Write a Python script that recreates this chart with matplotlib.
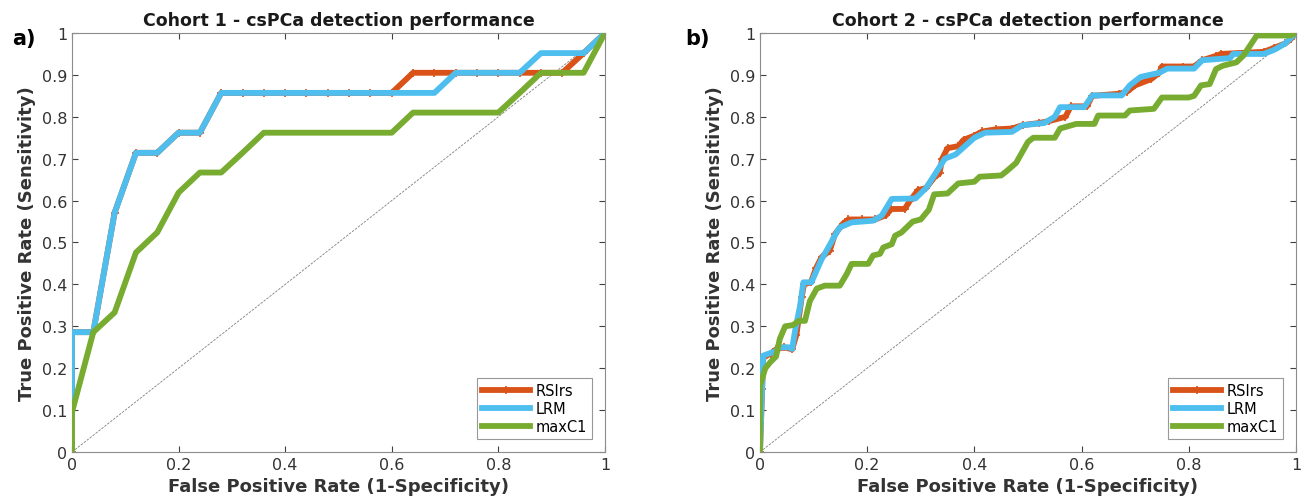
import matplotlib
matplotlib.use("Agg")
import matplotlib.pyplot as plt
from matplotlib.ticker import FuncFormatter

# colours (MATLAB default palette)
c_rsi = "#D95319"
c_lrm = "#4DBEEE"
c_max = "#77AC30"

# ---- Cohort 1 (step of 0.04 on FPR) ----
fpr1 = [0, 0, 0.04, 0.08, 0.12, 0.16, 0.20, 0.24, 0.28, 0.32, 0.36, 0.40, 0.44, 0.48,
        0.52, 0.56, 0.60, 0.64, 0.68, 0.72, 0.76, 0.80, 0.84, 0.88, 0.92, 0.96, 1.0]
rsi1 = [0, 0.286, 0.286, 0.571, 0.714, 0.714, 0.762, 0.762, 0.857, 0.857, 0.857, 0.857, 0.857, 0.857,
        0.857, 0.857, 0.857, 0.905, 0.905, 0.905, 0.905, 0.905, 0.905, 0.905, 0.905, 0.952, 1.0]
lrm1 = [0, 0.286, 0.286, 0.571, 0.714, 0.714, 0.762, 0.762, 0.857, 0.857, 0.857, 0.857, 0.857, 0.857,
        0.857, 0.857, 0.857, 0.857, 0.857, 0.905, 0.905, 0.905, 0.905, 0.952, 0.952, 0.952, 1.0]
max1 = [0, 0.095, 0.286, 0.333, 0.476, 0.524, 0.619, 0.667, 0.667, 0.714, 0.762, 0.762, 0.762, 0.762,
        0.762, 0.762, 0.762, 0.810, 0.810, 0.810, 0.810, 0.810, 0.857, 0.905, 0.905, 0.905, 1.0]

# ---- Cohort 2 ----
rsi2_x = [0, 0.004, 0.006, 0.02, 0.03, 0.045, 0.06, 0.068, 0.078, 0.082, 0.095, 0.105, 0.115, 0.13,
          0.14, 0.155, 0.165, 0.19, 0.215, 0.235, 0.245, 0.27, 0.28, 0.295, 0.31, 0.325, 0.335, 0.34,
          0.35, 0.37, 0.38, 0.40, 0.415, 0.44, 0.47, 0.49, 0.52, 0.54, 0.57, 0.58, 0.61, 0.62, 0.67,
          0.685, 0.70, 0.73, 0.745, 0.75, 0.79, 0.81, 0.825, 0.85, 0.86, 0.94, 0.96, 0.98, 0.99, 1.0]
rsi2_y = [0, 0.15, 0.225, 0.235, 0.245, 0.25, 0.245, 0.28, 0.37, 0.40, 0.405, 0.44, 0.465, 0.48,
          0.52, 0.545, 0.555, 0.555, 0.555, 0.565, 0.58, 0.58, 0.60, 0.625, 0.63, 0.655, 0.665, 0.70,
          0.725, 0.73, 0.745, 0.755, 0.765, 0.77, 0.772, 0.78, 0.785, 0.79, 0.80, 0.825, 0.825, 0.85, 0.855,
          0.86, 0.875, 0.89, 0.905, 0.92, 0.92, 0.92, 0.935, 0.945, 0.95, 0.955, 0.965, 0.975, 0.985, 1.0]

lrm2_x = [0, 0.004, 0.006, 0.028, 0.037, 0.053, 0.06, 0.065, 0.075, 0.081, 0.096, 0.115, 0.124,
          0.143, 0.149, 0.171, 0.211, 0.227, 0.246, 0.29, 0.31, 0.33, 0.345, 0.365, 0.40, 0.42, 0.47,
          0.49, 0.53, 0.55, 0.56, 0.605, 0.62, 0.675, 0.69, 0.71, 0.745, 0.76, 0.81, 0.825, 0.877,
          0.883, 0.94, 0.96, 0.98, 1.0]
lrm2_y = [0, 0.15, 0.23, 0.24, 0.25, 0.25, 0.246, 0.286, 0.35, 0.405, 0.405, 0.46, 0.48,
          0.524, 0.536, 0.548, 0.552, 0.564, 0.604, 0.605, 0.63, 0.67, 0.70, 0.71, 0.75, 0.762, 0.764,
          0.78, 0.785, 0.80, 0.823, 0.823, 0.851, 0.851, 0.875, 0.895, 0.905, 0.915, 0.915, 0.935, 0.94,
          0.95, 0.95, 0.96, 0.975, 1.0]

max2_x = [0, 0, 0.01, 0.019, 0.03, 0.037, 0.047, 0.062, 0.072, 0.084, 0.093, 0.106, 0.121, 0.149,
          0.162, 0.171, 0.202, 0.211, 0.224, 0.23, 0.246, 0.252, 0.264, 0.285, 0.30, 0.315, 0.325,
          0.35, 0.37, 0.40, 0.41, 0.45, 0.46, 0.478, 0.50, 0.51, 0.55, 0.56, 0.59, 0.624, 0.631,
          0.681, 0.69, 0.735, 0.75, 0.80, 0.81, 0.823, 0.839, 0.851, 0.864, 0.889, 0.902, 0.927,
          0.99, 1.0]
max2_y = [0, 0.158, 0.20, 0.214, 0.228, 0.27, 0.30, 0.303, 0.313, 0.313, 0.36, 0.39, 0.397, 0.397,
          0.425, 0.449, 0.449, 0.469, 0.473, 0.488, 0.496, 0.516, 0.524, 0.55, 0.555, 0.578, 0.615,
          0.617, 0.641, 0.645, 0.657, 0.66, 0.67, 0.69, 0.74, 0.75, 0.75, 0.772, 0.783, 0.783, 0.803,
          0.803, 0.815, 0.819, 0.846, 0.846, 0.85, 0.875, 0.878, 0.914, 0.922, 0.93, 0.946, 0.994,
          0.994, 1.0]

titles = ["Cohort 1 - csPCa detection performance", "Cohort 2 - csPCa detection performance"]
panel_tags = ["a)", "b)"]
series = [
    [(fpr1, rsi1), (fpr1, lrm1), (fpr1, max1)],
    [(rsi2_x, rsi2_y), (lrm2_x, lrm2_y), (max2_x, max2_y)],
]
names = ["RSIrs", "LRM", "maxC1"]

plt.rcParams["font.family"] = "DejaVu Sans"

fig = plt.figure(figsize=(13.04, 5.02), dpi=100)
ax_pos = [[0.0552, 0.0976, 0.4087, 0.8347], [0.5828, 0.0976, 0.4110, 0.8347]]
tag_pos = [(0.018, 0.922), (0.535, 0.922)]

fmt = FuncFormatter(lambda v, p: "%g" % round(v, 2))

for i in range(2):
    ax = fig.add_axes(ax_pos[i])
    (xr, yr), (xl, yl), (xm, ym) = series[i]
    ax.plot([0, 1], [0, 1], color="#7f7f7f", lw=0.6, ls=(0, (3, 1.5)), zorder=1)
    ax.plot(xr, yr, color=c_rsi, lw=4.2, marker="+", ms=6, mew=1.2, label=names[0], zorder=2)
    ax.plot(xl, yl, color=c_lrm, lw=4.2, label=names[1], zorder=3)
    ax.plot(xm, ym, color=c_max, lw=4.2, label=names[2], zorder=4)

    ax.set_xlim(0, 1)
    ax.set_ylim(0, 1)
    ax.set_xticks([0, 0.2, 0.4, 0.6, 0.8, 1])
    ax.set_yticks([0, 0.1, 0.2, 0.3, 0.4, 0.5, 0.6, 0.7, 0.8, 0.9, 1])
    ax.xaxis.set_major_formatter(fmt)
    ax.yaxis.set_major_formatter(fmt)
    ax.tick_params(direction="in", top=True, right=True, length=4, width=0.8,
                   color="#404040", labelcolor="#333333", labelsize=11.5)
    for s in ax.spines.values():
        s.set_color("#8c8c8c")
        s.set_linewidth(0.8)

    ax.set_title(titles[i], fontsize=12.5, fontweight="bold", color="#1a1a1a", pad=6)
    ax.set_xlabel("False Positive Rate (1-Specificity)", fontsize=13, fontweight="bold",
                  color="#333333", labelpad=4)
    ax.set_ylabel("True Positive Rate (Sensitivity)", fontsize=13, fontweight="bold",
                  color="#333333", labelpad=4)
    leg = ax.legend(loc="lower right", fontsize=10.5, frameon=True, fancybox=False,
                    edgecolor="#7f7f7f", handlelength=3.3, handletextpad=0.35,
                    labelspacing=0.2, borderpad=0.35, borderaxespad=0.9)
    leg.get_frame().set_linewidth(0.8)

    fig.text(tag_pos[i][0], tag_pos[i][1], panel_tags[i], fontsize=15, fontweight="bold",
             ha="center", va="center")

plt.savefig("out.png", dpi=100)
